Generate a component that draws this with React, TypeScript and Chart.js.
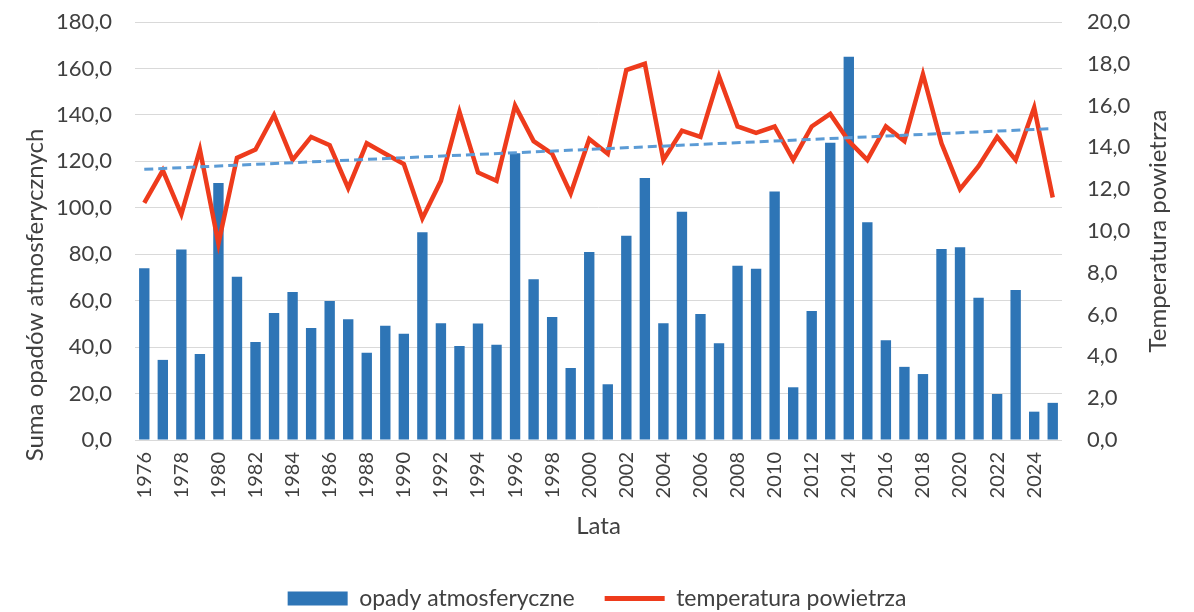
import React, { useEffect, useRef } from "react";
import { Chart, registerables } from "chart.js";

Chart.register(...registerables);

const years = [
  "1976", "1977", "1978", "1979", "1980", "1981", "1982", "1983", "1984", "1985",
  "1986", "1987", "1988", "1989", "1990", "1991", "1992", "1993", "1994", "1995",
  "1996", "1997", "1998", "1999", "2000", "2001", "2002", "2003", "2004", "2005",
  "2006", "2007", "2008", "2009", "2010", "2011", "2012", "2013", "2014", "2015",
  "2016", "2017", "2018", "2019", "2020", "2021", "2022", "2023", "2024", "2025",
];

const precipitation = [
  74, 34.5, 82, 37, 110.7, 70.3, 42.2, 54.7, 63.7, 48.2,
  59.9, 52, 37.6, 49.2, 45.7, 89.5, 50.3, 40.5, 50.2, 41,
  123.5, 69.2, 53, 31, 81, 24, 88, 112.8, 50.3, 98.3,
  54.3, 41.7, 75, 73.7, 107, 22.7, 55.6, 128, 165, 93.8,
  43, 31.5, 28.4, 82.2, 83, 61.3, 19.8, 64.6, 12.2, 16,
];

const temperature = [
  11.35, 12.9, 10.8, 13.9, 9.4, 13.5, 13.9, 15.55, 13.4, 14.5,
  14.1, 12.05, 14.2, 13.7, 13.2, 10.6, 12.4, 15.7, 12.8, 12.4,
  16.0, 14.3, 13.7, 11.8, 14.4, 13.7, 17.7, 18.0, 13.4, 14.8,
  14.5, 17.4, 15.0, 14.7, 15.0, 13.4, 15.0, 15.6, 14.3, 13.4,
  15.0, 14.3, 17.5, 14.2, 12.0, 13.1, 14.5, 13.4, 15.9, 11.6,
];

// Linear trend of temperature: value at first and last year
const trendEnds = [12.95, 14.9];

const leftTitle = "Suma opadów atmosferycznych";
const rightTitle = "Temperatura powietrza";
const xTitle = "Lata";
const seriesNames = ["opady atmosferyczne", "temperatura powietrza"];

const BLUE = "#2E75B6";
const RED = "#EE3B1C";
const TREND = "#5B9BD5";
const TEXT = "#404040";
const FONT = "Lato";

const fmt = (v: number) => v.toFixed(1).replace(".", ",");

const sideTitles = {
  id: "sideTitles",
  afterDraw(chart: any) {
    const { ctx, chartArea } = chart;
    ctx.save();
    ctx.fillStyle = TEXT;
    ctx.font = `24px ${FONT}`;
    ctx.textAlign = "center";
    ctx.textBaseline = "middle";
    ctx.save();
    ctx.translate(chartArea.left - 100, 295);
    ctx.rotate(-Math.PI / 2);
    ctx.fillText(leftTitle, 0, 0);
    ctx.restore();
    ctx.save();
    ctx.translate(chartArea.right + 96, (chartArea.top + chartArea.bottom) / 2);
    ctx.rotate(-Math.PI / 2);
    ctx.fillText(rightTitle, 0, 0);
    ctx.restore();
    ctx.restore();
  },
};

export default function App() {
  const canvasRef = useRef<HTMLCanvasElement | null>(null);

  useEffect(() => {
    document.body.style.margin = "0";
    const canvas = canvasRef.current;
    if (!canvas) return;

    const trendData = years.map((_, i) =>
      i === 0 ? trendEnds[0] : i === years.length - 1 ? trendEnds[1] : null
    );

    const chart = new Chart(canvas, {
      type: "bar",
      data: {
        labels: years,
        datasets: [
          {
            type: "line",
            label: "trend",
            data: trendData as any,
            yAxisID: "y1",
            borderColor: TREND,
            borderWidth: 3,
            borderDash: [9, 5],
            pointRadius: 0,
            spanGaps: true,
            order: 1,
          },
          {
            type: "line",
            label: seriesNames[1],
            data: temperature,
            yAxisID: "y1",
            borderColor: RED,
            backgroundColor: RED,
            borderWidth: 4.5,
            pointRadius: 0,
            tension: 0,
            order: 2,
          },
          {
            type: "bar",
            label: seriesNames[0],
            data: precipitation,
            yAxisID: "y",
            backgroundColor: BLUE,
            categoryPercentage: 1,
            barPercentage: 0.56,
            order: 3,
          } as any,
        ],
      },
      options: {
        responsive: false,
        animation: false,
        layout: { padding: { top: 22, bottom: -8, left: 0, right: 0 } },
        plugins: {
          tooltip: { enabled: false },
          legend: {
            position: "bottom",
            labels: {
              usePointStyle: true,
              pointStyleWidth: 60,
              boxHeight: 14,
              padding: 30,
              color: TEXT,
              font: { family: FONT, size: 23 },
              generateLabels: () => [
                {
                  text: seriesNames[0],
                  fillStyle: BLUE,
                  strokeStyle: BLUE,
                  lineWidth: 0,
                  pointStyle: "rect",
                  hidden: false,
                  datasetIndex: 2,
                  fontColor: TEXT,
                } as any,
                {
                  text: seriesNames[1],
                  fillStyle: RED,
                  strokeStyle: RED,
                  lineWidth: 5,
                  pointStyle: "line",
                  hidden: false,
                  datasetIndex: 1,
                  fontColor: TEXT,
                } as any,
              ],
            },
          },
        },
        scales: {
          x: {
            grid: { display: false, drawTicks: false },
            border: { display: false },
            ticks: {
              autoSkip: false,
              maxRotation: 90,
              minRotation: 90,
              padding: 12,
              color: TEXT,
              font: { family: FONT, size: 20 },
              callback: (_v: any, i: number) => (i % 2 === 0 ? years[i] : ""),
            },
            title: {
              display: true,
              text: xTitle,
              color: TEXT,
              font: { family: FONT, size: 24 },
              padding: { top: 0, bottom: 16 },
            },
            afterFit: (s: any) => {
              s.height = 117;
            },
          },
          y: {
            position: "left",
            min: 0,
            max: 180,
            grid: { color: "#D9D9D9", lineWidth: 1, drawTicks: false },
            border: { display: false },
            ticks: {
              stepSize: 20,
              padding: 23,
              color: TEXT,
              font: { family: FONT, size: 22 },
              callback: (v: any) => fmt(Number(v)),
            },
            afterFit: (s: any) => {
              s.width = 135;
              s.paddingTop = 0;
              s.paddingBottom = 0;
            },
          },
          y1: {
            position: "right",
            min: 0,
            max: 20,
            grid: { drawOnChartArea: false, drawTicks: false },
            border: { display: false },
            ticks: {
              stepSize: 2,
              padding: 25,
              color: TEXT,
              font: { family: FONT, size: 22 },
              callback: (v: any) => fmt(Number(v)),
            },
            afterFit: (s: any) => {
              s.width = 132;
              s.paddingTop = 0;
              s.paddingBottom = 0;
            },
          },
        },
      },
      plugins: [sideTitles],
    });

    return () => chart.destroy();
  }, []);

  return (
    <div style={{ width: 1194, height: 612, background: "#fff" }}>
      <canvas ref={canvasRef} width={1194} height={612} />
    </div>
  );
}
